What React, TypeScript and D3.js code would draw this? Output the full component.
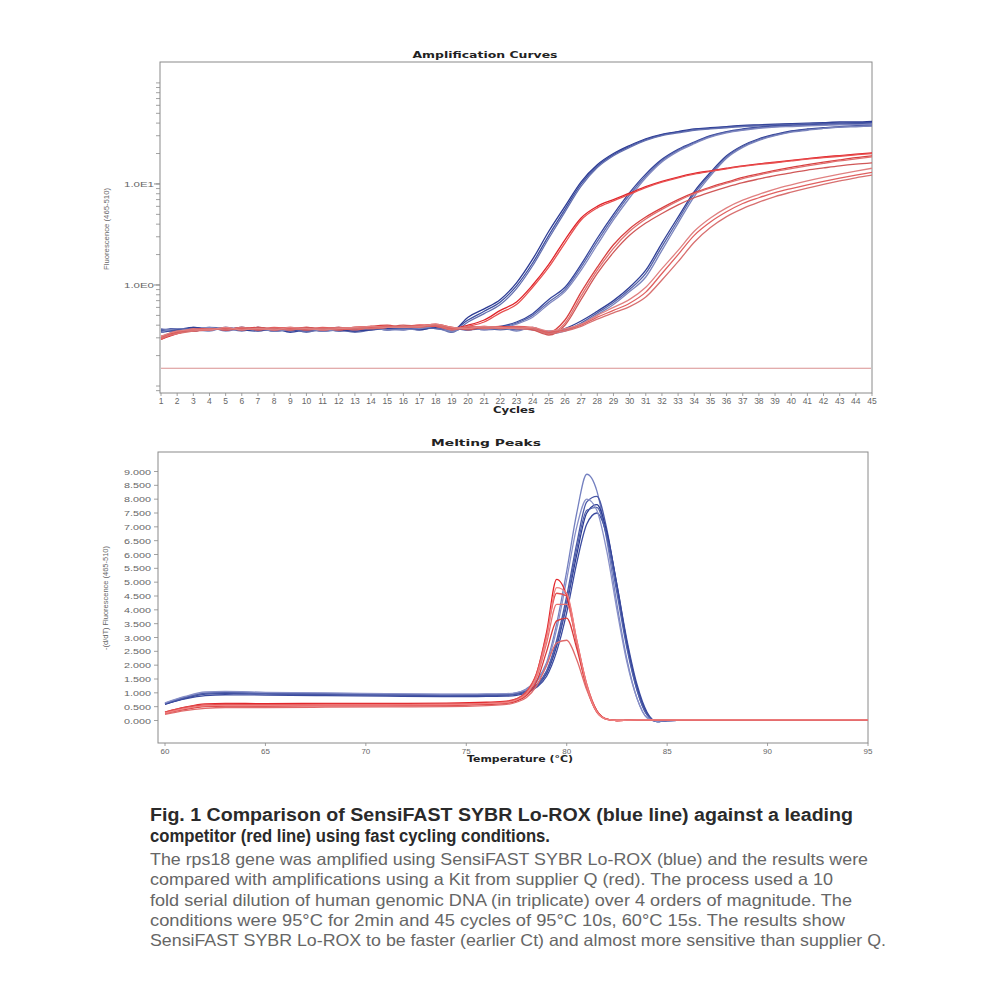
import React from "react";
import * as d3 from "d3";

// ---- Amplification curves (fluorescence per cycle, log scale) ----
const cycles = [
  1, 2, 3, 4, 5, 6, 7, 8, 9, 10, 11, 12, 13, 14, 15, 16, 17, 18, 19, 20, 21, 22, 23,
  24, 25, 26, 27, 28, 29, 30, 31, 32, 33, 34, 35, 36, 37, 38, 39, 40, 41, 42, 43, 44, 45,
];

const blue1a = [0.34,0.36,0.37,0.36,0.38,0.36,0.37,0.35,0.36,0.35,0.36,0.37,0.35,0.37,0.38,0.37,0.38,0.39,0.35,0.48,0.58,0.72,1.05,1.8,3.4,6.0,10.5,15.5,20,24,28,31,33,35,36,37,38,38.5,39,39.5,40,40.5,41,41,41.5];
const blue1b = [0.36,0.35,0.38,0.37,0.36,0.37,0.36,0.36,0.35,0.36,0.35,0.36,0.36,0.38,0.37,0.38,0.37,0.38,0.36,0.45,0.55,0.68,0.98,1.65,3.1,5.6,10,15,19.5,23.5,27.5,30.5,32.5,34.5,35.5,36.5,37.5,38,38.5,39,39.5,40,40,40.5,40.5];
const blue1c = [0.35,0.37,0.36,0.38,0.37,0.35,0.38,0.36,0.37,0.34,0.37,0.36,0.34,0.36,0.39,0.36,0.39,0.38,0.34,0.43,0.52,0.64,0.92,1.55,2.9,5.3,9.5,14.5,19,23,27,30,32,34,35,36,37,37.5,38,38.5,39,39,39.5,39.5,40];
const blue2a = [0.36,0.37,0.35,0.37,0.36,0.38,0.36,0.37,0.34,0.36,0.37,0.35,0.36,0.37,0.36,0.38,0.37,0.39,0.36,0.37,0.38,0.39,0.43,0.52,0.72,0.95,1.6,2.9,5.0,8.2,12.5,17.5,22,26,30,33,35,36.5,37.5,38,38.5,39,39,39.5,40];
const blue2b = [0.35,0.36,0.37,0.36,0.37,0.36,0.38,0.35,0.36,0.37,0.35,0.36,0.37,0.36,0.38,0.37,0.36,0.38,0.37,0.36,0.37,0.38,0.42,0.5,0.68,0.9,1.5,2.7,4.7,7.8,12,17,21.5,25.5,29.5,32.5,34.5,36,37,37.5,38,38.5,39,39,39.5];
const blue2c = [0.37,0.35,0.36,0.38,0.35,0.37,0.37,0.36,0.37,0.35,0.36,0.38,0.35,0.38,0.37,0.36,0.38,0.37,0.35,0.38,0.36,0.37,0.41,0.48,0.65,0.86,1.4,2.5,4.4,7.3,11.5,16.5,21,25,29,32,34,35.5,36.5,37,37.5,38,38.5,38.5,39];
const blue3a = [0.35,0.36,0.38,0.36,0.37,0.36,0.35,0.37,0.36,0.36,0.37,0.36,0.35,0.36,0.37,0.38,0.36,0.38,0.37,0.36,0.38,0.37,0.36,0.37,0.34,0.37,0.44,0.55,0.7,0.95,1.4,2.6,4.7,8.4,13,19,24,28,31,33.5,35,36,37,37.5,38];
const blue3b = [0.36,0.35,0.37,0.37,0.36,0.38,0.36,0.36,0.37,0.35,0.36,0.37,0.36,0.37,0.36,0.37,0.38,0.37,0.36,0.37,0.37,0.36,0.37,0.36,0.35,0.36,0.42,0.53,0.67,0.9,1.3,2.4,4.4,8,12.5,18.5,23.5,27.5,30.5,33,34.5,35.5,36.5,37,37.5];
const blue3c = [0.34,0.37,0.36,0.35,0.38,0.37,0.37,0.35,0.36,0.37,0.35,0.36,0.37,0.38,0.36,0.36,0.37,0.39,0.35,0.38,0.36,0.38,0.35,0.38,0.33,0.35,0.41,0.51,0.64,0.86,1.2,2.2,4.1,7.5,12,18,23,27,30,32.5,34,35.5,36.5,37,37.5];
const red1a = [0.29,0.33,0.36,0.37,0.36,0.37,0.38,0.36,0.37,0.38,0.36,0.37,0.38,0.39,0.38,0.39,0.40,0.40,0.37,0.40,0.45,0.56,0.68,1.0,1.6,2.8,4.6,6.0,7.0,8.1,9.4,10.6,11.7,12.7,13.5,14.3,15.1,15.8,16.4,17.1,17.8,18.5,19.1,19.7,20.3];
const red1b = [0.31,0.34,0.35,0.36,0.37,0.36,0.37,0.37,0.36,0.37,0.37,0.36,0.37,0.38,0.39,0.38,0.39,0.39,0.36,0.39,0.43,0.53,0.64,0.95,1.5,2.6,4.4,5.8,6.8,7.9,9.2,10.4,11.5,12.5,13.3,14.1,14.9,15.6,16.2,16.9,17.6,18.2,18.8,19.4,20];
const red2a = [0.30,0.34,0.36,0.37,0.36,0.38,0.36,0.37,0.38,0.36,0.37,0.38,0.37,0.39,0.40,0.38,0.39,0.41,0.38,0.37,0.38,0.39,0.38,0.37,0.34,0.45,0.85,1.5,2.5,3.6,4.7,5.8,7.0,8.2,9.3,10.4,11.6,12.6,13.6,14.6,15.5,16.4,17.3,18.2,19];
const red2b = [0.31,0.33,0.37,0.36,0.37,0.37,0.37,0.36,0.37,0.37,0.36,0.37,0.38,0.38,0.39,0.39,0.38,0.40,0.37,0.38,0.37,0.38,0.37,0.36,0.33,0.42,0.78,1.4,2.3,3.4,4.5,5.6,6.8,8.0,9.1,10.2,11.3,12.3,13.3,14.2,15.1,16.0,16.9,17.7,18.5];
const red2c = [0.30,0.35,0.35,0.37,0.37,0.36,0.38,0.37,0.36,0.38,0.37,0.36,0.38,0.37,0.38,0.40,0.39,0.40,0.38,0.36,0.38,0.38,0.38,0.36,0.32,0.40,0.72,1.3,2.1,3.1,4.1,5.1,6.2,7.3,8.3,9.3,10.3,11.2,12.1,12.9,13.7,14.4,15.1,15.7,16.2];
const red3a = [0.29,0.34,0.36,0.36,0.37,0.37,0.36,0.38,0.37,0.36,0.38,0.37,0.36,0.38,0.39,0.38,0.40,0.39,0.37,0.38,0.39,0.38,0.39,0.38,0.34,0.36,0.40,0.48,0.56,0.66,0.85,1.3,2.0,3.1,4.2,5.3,6.4,7.3,8.2,9.0,9.8,10.6,11.4,12.2,13];
const red3b = [0.30,0.33,0.35,0.37,0.36,0.38,0.37,0.37,0.36,0.37,0.37,0.38,0.37,0.37,0.38,0.39,0.39,0.40,0.36,0.39,0.38,0.37,0.38,0.37,0.33,0.35,0.39,0.46,0.53,0.61,0.76,1.12,1.7,2.65,3.7,4.75,5.7,6.6,7.5,8.3,9.1,9.9,10.7,11.5,12.2];
const red3c = [0.31,0.35,0.36,0.36,0.38,0.36,0.37,0.36,0.38,0.37,0.36,0.37,0.38,0.39,0.38,0.38,0.39,0.41,0.38,0.37,0.39,0.38,0.37,0.38,0.35,0.37,0.41,0.5,0.6,0.72,0.95,1.45,2.2,3.4,4.6,5.8,6.9,7.9,8.9,9.8,10.7,11.6,12.5,13.4,14.3];

const thresholdValue = 0.15;
const ampMajorTicks = [1, 10];
const ampMajorLabels = ["1.0E0", "1.0E1"];

// ---- Melting peaks (-dF/dT per temperature) ----
const meltTemps = [60, 61, 62, 63, 65, 68, 71, 74, 76, 77, 77.5, 78, 78.5, 79, 79.5, 80, 80.5, 81, 81.5, 82, 82.5, 83, 83.5, 84, 84.5, 85, 87, 90, 95];

const meltBlueA = [0.62,0.85,1.0,1.03,1.0,0.98,0.96,0.94,0.95,0.96,1.0,1.15,1.45,2.1,3.5,5.4,7.5,8.9,8.3,6.5,4.2,2.2,0.8,0.1,-0.03,0.0,0.02,0.02,0.02];
const meltBlueB = [0.60,0.82,0.98,1.0,0.98,0.96,0.94,0.92,0.93,0.94,0.97,1.08,1.3,1.8,2.9,4.5,6.4,7.9,8.1,6.9,4.8,2.7,1.1,0.2,-0.04,0.0,0.02,0.02,0.02];
const meltBlueC = [0.58,0.8,0.95,0.98,0.96,0.94,0.92,0.9,0.91,0.92,0.95,1.05,1.25,1.7,2.7,4.2,6.0,7.5,7.8,6.8,4.9,2.8,1.2,0.25,-0.04,0.0,0.02,0.02,0.02];
const meltBlueD = [0.6,0.78,0.9,0.93,0.92,0.9,0.88,0.86,0.87,0.88,0.91,1.0,1.2,1.6,2.5,3.9,5.7,7.1,7.5,6.7,4.9,2.9,1.3,0.3,-0.03,0.0,0.02,0.02,0.02];
const meltBlueE = [0.62,0.83,0.97,1.0,0.97,0.95,0.93,0.91,0.92,0.93,0.96,1.06,1.27,1.75,2.8,4.3,6.2,7.6,7.7,6.6,4.6,2.6,1.1,0.2,-0.04,0.0,0.02,0.02,0.02];
const meltBlueF = [0.64,0.87,1.03,1.05,1.02,1.0,0.97,0.95,0.96,0.97,1.01,1.12,1.4,2.0,3.3,5.1,7.0,8.0,7.6,6.1,4.0,2.1,0.8,0.1,-0.03,0.0,0.02,0.02,0.02];
const meltRedA = [0.3,0.48,0.6,0.62,0.61,0.62,0.62,0.63,0.66,0.7,0.78,1.02,1.7,3.2,5.1,4.5,2.8,1.2,0.3,0.04,0.0,0.01,0.02,0.02,0.02,0.02,0.02,0.02,0.02];
const meltRedB = [0.3,0.47,0.56,0.58,0.57,0.58,0.58,0.59,0.63,0.68,0.78,1.05,1.7,3.1,4.6,4.5,2.9,1.3,0.35,0.05,0.0,0.01,0.02,0.02,0.02,0.02,0.02,0.02,0.02];
const meltRedC = [0.26,0.42,0.52,0.54,0.53,0.54,0.55,0.56,0.6,0.64,0.72,0.95,1.55,2.8,4.2,4.2,2.8,1.3,0.35,0.05,0.0,0.01,0.02,0.02,0.02,0.02,0.02,0.02,0.02];
const meltRedD = [0.25,0.4,0.5,0.52,0.52,0.53,0.53,0.54,0.58,0.62,0.7,0.9,1.4,2.5,3.6,3.7,2.6,1.2,0.35,0.05,0.0,0.01,0.02,0.02,0.02,0.02,0.02,0.02,0.02];
const meltRedE = [0.22,0.36,0.44,0.47,0.47,0.48,0.49,0.5,0.54,0.58,0.66,0.83,1.25,2.0,2.8,2.9,2.2,1.1,0.3,0.04,0.0,0.01,0.02,0.02,0.02,0.02,0.02,0.02,0.02];
const meltRedF = [0.27,0.43,0.53,0.55,0.55,0.56,0.56,0.57,0.61,0.65,0.74,0.98,1.6,3.0,4.8,4.6,2.9,1.25,0.32,0.04,0.0,0.01,0.02,0.02,0.02,0.02,0.02,0.02,0.02];

const meltYTicks = [0, 0.5, 1, 1.5, 2, 2.5, 3, 3.5, 4, 4.5, 5, 5.5, 6, 6.5, 7, 7.5, 8, 8.5, 9];
const meltXTicks = [60, 65, 70, 75, 80, 85, 90, 95];

const captionBold = [
  "Fig. 1 Comparison of SensiFAST SYBR Lo-ROX (blue line) against a leading",
  "competitor (red line) using fast cycling conditions.",
];
const captionBody = [
  "The rps18 gene was amplified using SensiFAST SYBR Lo-ROX (blue) and the results were",
  "compared with amplifications using a Kit from supplier Q (red). The process used a 10",
  "fold serial dilution of human genomic DNA (in triplicate) over 4 orders of magnitude. The",
  "conditions were 95°C for 2min and 45 cycles of 95°C 10s, 60°C 15s. The results show",
  "SensiFAST SYBR Lo-ROX to be faster (earlier Ct) and almost more sensitive than supplier Q.",
];

// series lists (styles kept apart below)
const ampSeries = [
  { key: "b1a", values: blue1a }, { key: "b1b", values: blue1b }, { key: "b1c", values: blue1c },
  { key: "b2a", values: blue2a }, { key: "b2b", values: blue2b }, { key: "b2c", values: blue2c },
  { key: "b3a", values: blue3a }, { key: "b3b", values: blue3b }, { key: "b3c", values: blue3c },
  { key: "r1a", values: red1a }, { key: "r1b", values: red1b },
  { key: "r2a", values: red2a }, { key: "r2b", values: red2b }, { key: "r2c", values: red2c },
  { key: "r3a", values: red3a }, { key: "r3b", values: red3b }, { key: "r3c", values: red3c },
];
const meltSeries = [
  { key: "ba", values: meltBlueA }, { key: "bb", values: meltBlueB }, { key: "bc", values: meltBlueC },
  { key: "bd", values: meltBlueD }, { key: "be", values: meltBlueE }, { key: "bf", values: meltBlueF },
  { key: "ra", values: meltRedA }, { key: "rb", values: meltRedB }, { key: "rc", values: meltRedC },
  { key: "rd", values: meltRedD }, { key: "re", values: meltRedE }, { key: "rf", values: meltRedF },
];

const colors: Record<string, string> = {
  b1a: "#2b3a93", b1b: "#3d4ea0", b1c: "#6470b0",
  b2a: "#34449b", b2b: "#5a68ad", b2c: "#8088c0",
  b3a: "#2f3f96", b3b: "#5563a9", b3c: "#7a84bd",
  r1a: "#e0242a", r1b: "#e85050",
  r2a: "#d84040", r2b: "#e07070", r2c: "#d05858",
  r3a: "#e06060", r3b: "#d87070", r3c: "#e08080",
  ba: "#7480c0", bb: "#4a58a6", bc: "#2b3a93", bd: "#3a4a9e", be: "#5060aa", bf: "#8890c8",
  ra: "#e3262b", rb: "#e05050", rc: "#e87070", rd: "#d93a3a", re: "#e06a6a", rf: "#f08080",
};

const AXIS = "#8a8a8a";
const LABEL = "#666";
const FONT = "'Liberation Sans', Arial, sans-serif";

export default function App() {
  // top frame
  const t = { left: 160, right: 872, top: 62, bottom: 393 };
  const xAmp = d3.scaleLinear().domain([1, 45]).range([161, 872]);
  const yAmp = d3.scaleLog().domain([0.0853, 161]).range([t.bottom, t.top]);
  const ampLine = d3
    .line<number>()
    .x((_, i) => xAmp(cycles[i]))
    .y((v) => yAmp(v))
    .curve(d3.curveMonotoneX);
  const minorTicks = yAmp.ticks(20).filter((v) => v >= 0.09 && v <= 160);

  // bottom frame
  const b = { left: 158, right: 868, top: 452, bottom: 743 };
  const xMelt = d3.scaleLinear().domain([60, 95]).range([165, 868]);
  const yMelt = d3.scaleLinear().domain([0, 9]).range([720.5, 471.5]);
  const meltLine = d3
    .line<number>()
    .x((_, i) => xMelt(meltTemps[i]))
    .y((v) => yMelt(v))
    .curve(d3.curveMonotoneX);

  const titleStyle = { fontFamily: "'DejaVu Sans', Arial, sans-serif", fontWeight: 700, fontSize: 8.5, fill: "#222" } as const;

  return (
    <svg width={1000} height={1000} style={{ position: "absolute", left: 0, top: 0, background: "#fff" }}>
      <rect width={1000} height={1000} fill="#fff" />

      {/* ===== Amplification Curves ===== */}
      <text x={485} y={58} textAnchor="middle" textLength={145} lengthAdjust="spacingAndGlyphs" style={titleStyle}>
        Amplification Curves
      </text>
      <rect x={t.left} y={t.top} width={t.right - t.left} height={t.bottom - t.top} fill="none" stroke={AXIS} strokeWidth={1} />
      {minorTicks.map((v) => (
        <line key={"mt" + v} x1={t.left - 4} x2={t.left} y1={yAmp(v)} y2={yAmp(v)} stroke={AXIS} strokeWidth={0.8} />
      ))}
      {ampMajorTicks.map((v, i) => (
        <g key={"M" + v}>
          <line x1={t.left - 6} x2={t.left} y1={yAmp(v)} y2={yAmp(v)} stroke={AXIS} />
          <text x={154} y={yAmp(v) + 3} textAnchor="end" fontFamily={FONT} fontSize={8} fill={LABEL} textLength={30} lengthAdjust="spacingAndGlyphs">
            {ampMajorLabels[i]}
          </text>
        </g>
      ))}
      <text transform="translate(109,229) rotate(-90)" textAnchor="middle" fontFamily={FONT} fontSize={8} fill={LABEL} textLength={82} lengthAdjust="spacingAndGlyphs">
        Fluorescence (465-510)
      </text>
      {cycles.map((c) => (
        <g key={"c" + c}>
          <line x1={xAmp(c)} x2={xAmp(c)} y1={t.bottom} y2={t.bottom + 3} stroke={AXIS} strokeWidth={0.8} />
          <text x={xAmp(c)} y={404} textAnchor="middle" fontFamily={FONT} fontSize={8.5} fill={LABEL}>
            {c}
          </text>
        </g>
      ))}
      <text x={514} y={413} textAnchor="middle" textLength={42} lengthAdjust="spacingAndGlyphs" style={titleStyle}>
        Cycles
      </text>
      <line x1={t.left + 1} x2={t.right - 1} y1={yAmp(thresholdValue)} y2={yAmp(thresholdValue)} stroke="#d99090" strokeWidth={1.2} />
      <g fill="none" strokeWidth={1.3} strokeLinejoin="round">
        {ampSeries.map((s) => (
          <path key={s.key} d={ampLine(s.values) || ""} stroke={colors[s.key]} />
        ))}
      </g>

      {/* ===== Melting Peaks ===== */}
      <text x={486} y={446} textAnchor="middle" textLength={110} lengthAdjust="spacingAndGlyphs" style={titleStyle}>
        Melting Peaks
      </text>
      <rect x={b.left} y={b.top} width={b.right - b.left} height={b.bottom - b.top} fill="none" stroke={AXIS} strokeWidth={1} />
      {meltYTicks.map((v) => (
        <g key={"y" + v}>
          <line x1={b.left - 4} x2={b.left} y1={yMelt(v)} y2={yMelt(v)} stroke={AXIS} strokeWidth={0.8} />
          <text x={151} y={yMelt(v) + 3} textAnchor="end" fontFamily={FONT} fontSize={8} fill={LABEL} textLength={27} lengthAdjust="spacingAndGlyphs">
            {v.toFixed(3)}
          </text>
        </g>
      ))}
      <text transform="translate(108,598) rotate(-90)" textAnchor="middle" fontFamily={FONT} fontSize={8} fill={LABEL} textLength={104} lengthAdjust="spacingAndGlyphs">
        -(d/dT) Fluorescence (465-510)
      </text>
      {meltXTicks.map((v) => (
        <g key={"x" + v}>
          <line x1={xMelt(v)} x2={xMelt(v)} y1={b.bottom} y2={b.bottom + 3} stroke={AXIS} strokeWidth={0.8} />
          <text x={xMelt(v)} y={754} textAnchor="middle" fontFamily={FONT} fontSize={8} fill={LABEL}>
            {v}
          </text>
        </g>
      ))}
      <text x={520} y={762} textAnchor="middle" textLength={106} lengthAdjust="spacingAndGlyphs" style={titleStyle}>
        Temperature (°C)
      </text>
      <g fill="none" strokeWidth={1.3} strokeLinejoin="round">
        {meltSeries.map((s) => (
          <path key={s.key} d={meltLine(s.values) || ""} stroke={colors[s.key]} />
        ))}
      </g>

      {/* ===== Caption ===== */}
      {captionBold.map((line, i) => (
        <text key={"cb" + i} x={150} y={821 + i * 21} fontFamily={FONT} fontWeight={700} fontSize={17.5} fill="#2a2a2a"
          textLength={i === 0 ? 703 : 400} lengthAdjust="spacingAndGlyphs">
          {line}
        </text>
      ))}
      {captionBody.map((line, i) => (
        <text key={"cl" + i} x={150} y={865 + i * 20.3} fontFamily={FONT} fontSize={16.5} fill="#666"
          textLength={[718, 683, 702, 695, 736][i]} lengthAdjust="spacingAndGlyphs">
          {line}
        </text>
      ))}
    </svg>
  );
}
